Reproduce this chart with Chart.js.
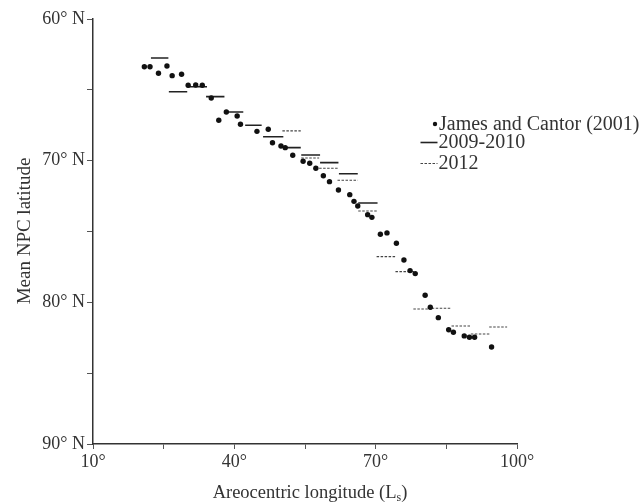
<!DOCTYPE html>
<html>
<head>
<meta charset="utf-8">
<script src="https://cdn.jsdelivr.net/npm/chart.js@4/dist/chart.umd.min.js"></script>
<style>
  html, body { margin: 0; padding: 0; background: #ffffff; }
  #wrap { position: relative; width: 644px; height: 504px; }
</style>
</head>
<body>
<div id="wrap"><canvas id="c" width="644" height="504"></canvas></div>
<script>
// ---- Data ----
// James and Cantor (2001): areocentric longitude (Ls, deg) and mean NPC latitude (deg N)
const jcLs  = [20.9, 22.1, 23.9, 25.7, 26.8, 28.8, 30.2, 31.8, 33.2, 35.1, 36.7, 38.3, 40.6, 41.3, 44.8, 47.2,
               48.1, 49.9, 50.8, 52.4, 54.6, 56.0, 57.3, 58.9, 60.2, 62.1, 64.5, 65.4, 66.2, 68.3, 69.2, 71.0,
               72.4, 74.4, 76.0, 77.3, 78.4, 80.5, 81.6, 83.3, 85.5, 86.5, 88.8, 89.9, 91.0, 94.6];
const jcLat = [63.37, 63.37, 63.83, 63.32, 64.0, 63.9, 64.68, 64.66, 64.68, 65.58, 67.15, 66.56, 66.85, 67.43, 67.93, 67.78,
               68.73, 68.96, 69.08, 69.62, 70.04, 70.18, 70.54, 71.06, 71.48, 72.07, 72.4, 72.87, 73.2, 73.81, 74.0, 75.19,
               75.1, 75.83, 77.01, 77.76, 77.97, 79.5, 80.35, 81.08, 81.93, 82.11, 82.37, 82.46, 82.46, 83.15];

// 2009-2010 binned means (solid)
const s0910Start = [22.3, 26.1, 29.9, 34.0, 38.0, 42.3, 46.1, 50.8, 54.2, 58.2, 62.2, 66.3];
const s0910End   = [26.0, 30.0, 34.2, 37.9, 41.9, 45.8, 50.4, 54.1, 58.2, 62.1, 66.2, 70.4];
const s0910Lat   = [62.75, 65.13, 64.78, 65.48, 66.56, 67.5, 68.31, 69.08, 69.6, 70.14, 70.92, 72.99];

// 2012 binned means (dashed)
const s2012Start = [50.2, 54.2, 58.0, 61.9, 66.3, 70.2, 74.2, 78.0, 81.9, 86.1, 90.2, 94.1];
const s2012End   = [54.1, 58.0, 62.1, 66.2, 70.4, 74.4, 78.3, 81.9, 86.1, 90.3, 94.2, 97.9];
const s2012Lat   = [67.9, 69.81, 70.54, 71.38, 73.55, 76.77, 77.83, 80.47, 80.42, 81.67, 82.23, 81.74];

// Axis ticks
const xTickLabels = [10, 40, 70, 100];
const yTickLabels = [60, 70, 80, 90];

const legendLabels = ['James and Cantor (2001)', '2009-2010', '2012'];
const xTitle = 'Areocentric longitude (L';
const xTitleSub = 's';
const yTitle = 'Mean NPC latitude';

// ---- Build library data ----
const jcData = jcLs.map((x, i) => ({ x: x, y: jcLat[i] }));
function segs(st, en, la) {
  const out = [];
  for (let i = 0; i < st.length; i++) {
    out.push({ x: st[i], y: la[i] });
    out.push({ x: en[i], y: la[i] });
    out.push({ x: en[i], y: null });
  }
  return out;
}

const FONT = '"Liberation Serif", "Times New Roman", serif';
const TXT = '#333333';

const decorPlugin = {
  id: 'decor',
  afterDraw(chart) {
    const ctx = chart.ctx;
    ctx.save();
    ctx.fillStyle = TXT;
    // x title with subscript
    ctx.font = '18.5px ' + FONT;
    ctx.textBaseline = 'alphabetic';
    const w1 = ctx.measureText(xTitle).width;
    ctx.font = '12px ' + FONT;
    const w2 = ctx.measureText(xTitleSub).width;
    ctx.font = '18.5px ' + FONT;
    const w3 = ctx.measureText(')').width;
    const total = w1 + w2 + w3;
    const x0 = 310 - total / 2;
    const by = 498;
    ctx.textAlign = 'left';
    ctx.fillText(xTitle, x0, by);
    ctx.font = '12px ' + FONT;
    ctx.fillText(xTitleSub, x0 + w1, by + 3);
    ctx.font = '18.5px ' + FONT;
    ctx.fillText(')', x0 + w1 + w2, by);

    // y title (rotated)
    ctx.save();
    ctx.translate(30, 231);
    ctx.rotate(-Math.PI / 2);
    ctx.textAlign = 'center';
    ctx.font = '19px ' + FONT;
    ctx.fillText(yTitle, 0, 0);
    ctx.restore();

    // legend
    ctx.font = '20px ' + FONT;
    ctx.textAlign = 'left';
    ctx.beginPath();
    ctx.arc(435, 124, 2.2, 0, Math.PI * 2);
    ctx.fillStyle = '#111';
    ctx.fill();
    ctx.fillStyle = TXT;
    ctx.fillText(legendLabels[0], 439, 130);
    ctx.strokeStyle = '#222';
    ctx.lineWidth = 1.6;
    ctx.beginPath();
    ctx.moveTo(420.5, 142.5);
    ctx.lineTo(437.5, 142.5);
    ctx.stroke();
    ctx.fillText(legendLabels[1], 438.5, 148);
    ctx.setLineDash([2.5, 1.5]);
    ctx.lineWidth = 1.1;
    ctx.strokeStyle = '#444';
    ctx.beginPath();
    ctx.moveTo(420.5, 163.5);
    ctx.lineTo(437.5, 163.5);
    ctx.stroke();
    ctx.setLineDash([]);
    ctx.fillText(legendLabels[2], 438.5, 169);
    ctx.restore();
  }
};

new Chart(document.getElementById('c'), {
  type: 'scatter',
  data: {
    datasets: [
      {
        label: legendLabels[0],
        data: jcData,
        showLine: false,
        pointRadius: 2.7,
        pointHoverRadius: 2.7,
        pointBackgroundColor: '#111',
        pointBorderColor: '#111',
        pointBorderWidth: 0
      },
      {
        label: legendLabels[1],
        data: segs(s0910Start, s0910End, s0910Lat),
        showLine: true,
        spanGaps: false,
        pointRadius: 0,
        borderColor: '#222',
        borderWidth: 1.6
      },
      {
        label: legendLabels[2],
        data: segs(s2012Start, s2012End, s2012Lat),
        showLine: true,
        spanGaps: false,
        pointRadius: 0,
        borderColor: '#444',
        borderWidth: 1.1,
        borderDash: [2.5, 1.5]
      }
    ]
  },
  options: {
    responsive: false,
    animation: false,
    devicePixelRatio: 1,
    layout: { padding: { top: 19, right: 127, bottom: 0, left: 0 } },
    plugins: {
      legend: { display: false },
      tooltip: { enabled: false },
      title: { display: false }
    },
    scales: {
      x: {
        type: 'linear',
        min: 10,
        max: 100,
        afterFit(scale) { scale.height = 60; },
        afterBuildTicks(scale) {
          scale.ticks = [10, 25, 40, 55, 70, 85, 100].map(v => ({ value: v }));
        },
        ticks: {
          autoSkip: false,
          maxRotation: 0,
          padding: 2,
          color: TXT,
          font: { family: FONT, size: 18 },
          callback: (v) => xTickLabels.includes(v) ? v + '°' : ''
        },
        grid: { display: true, drawOnChartArea: false, drawTicks: true, tickLength: 5, color: '#555', lineWidth: 1 },
        border: { display: true, color: '#333', width: 1.5 }
      },
      y: {
        type: 'linear',
        reverse: true,
        min: 60,
        max: 90,
        afterFit(scale) { scale.width = 93; },
        afterBuildTicks(scale) {
          scale.ticks = [60, 65, 70, 75, 80, 85, 90].map(v => ({ value: v }));
        },
        ticks: {
          autoSkip: false,
          padding: 2,
          color: TXT,
          font: { family: FONT, size: 18 },
          callback: (v) => yTickLabels.includes(v) ? v + '° N' : ''
        },
        grid: { display: true, drawOnChartArea: false, drawTicks: true, tickLength: 6, color: '#555', lineWidth: 1 },
        border: { display: true, color: '#333', width: 1.5 }
      }
    }
  },
  plugins: [decorPlugin]
});
</script>
</body>
</html>
